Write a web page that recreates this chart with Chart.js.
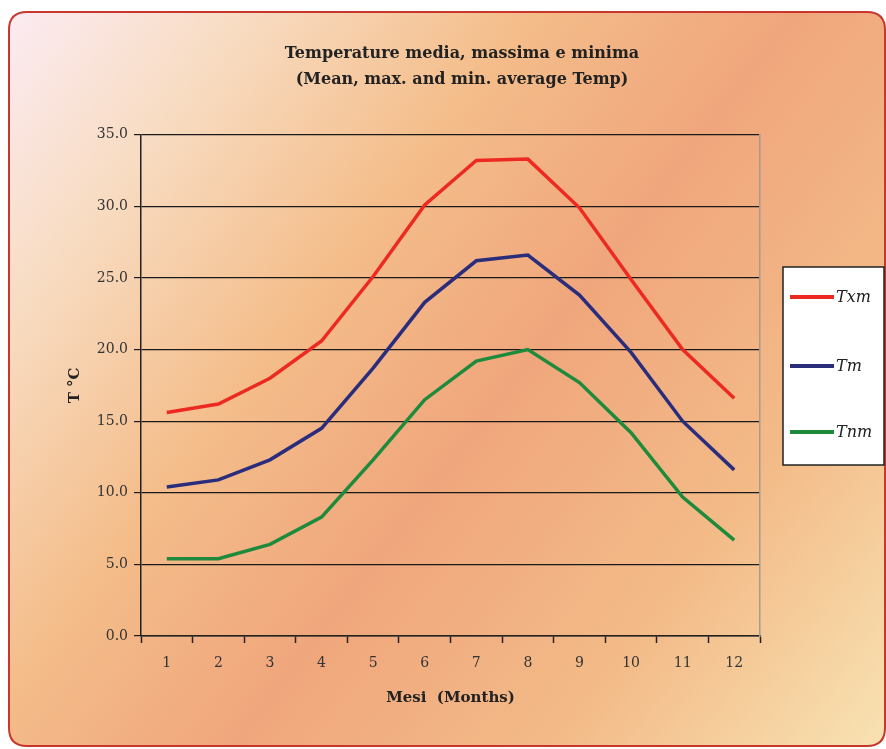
<!DOCTYPE html>
<html>
<head>
<meta charset="utf-8">
<script src="https://cdn.jsdelivr.net/npm/chart.js@4"></script>
<style>
  html, body { margin: 0; padding: 0; background: #fff; }
  #wrap { width: 886px; height: 749px; }
</style>
</head>
<body>
<div id="wrap"><canvas id="tempChart" width="886" height="749"></canvas></div>
<script>
// Dati
const mesi = ['1', '2', '3', '4', '5', '6', '7', '8', '9', '10', '11', '12'];
const txm = [15.6, 16.2, 18.0, 20.6, 25.1, 30.1, 33.2, 33.3, 29.9, 24.9, 20.0, 16.6];
const tm  = [10.4, 10.9, 12.3, 14.5, 18.7, 23.3, 26.2, 26.6, 23.8, 19.8, 15.0, 11.6];
const tnm = [5.4, 5.4, 6.4, 8.3, 12.3, 16.5, 19.2, 20.0, 17.7, 14.2, 9.7, 6.7];
const serieNomi = ['Txm', 'Tm', 'Tnm'];
const serieColori = ['#ec2a22', '#2a2c7c', '#1e8a3c'];
const titolo = ['Temperature media, massima e minima', '(Mean, max. and min. average Temp)'];

const serif = "'DejaVu Serif', 'Liberation Serif', serif";

// Sfondo sfumato e cornice arrotondata
const sfondo = {
  id: 'sfondo',
  beforeDraw(chart) {
    const c = chart.ctx;
    c.save();
    const x0 = 9, y0 = 12, x1 = 885, y1 = 746, r = 18;
    c.beginPath();
    c.moveTo(x0 + r, y0);
    c.lineTo(x1 - r, y0);
    c.quadraticCurveTo(x1, y0, x1, y0 + r);
    c.lineTo(x1, y1 - r);
    c.quadraticCurveTo(x1, y1, x1 - r, y1);
    c.lineTo(x0 + r, y1);
    c.quadraticCurveTo(x0, y1, x0, y1 - r);
    c.lineTo(x0, y0 + r);
    c.quadraticCurveTo(x0, y0, x0 + r, y0);
    c.closePath();
    const g = c.createLinearGradient(0, 40, 886, 720);
    g.addColorStop(0, '#fbeaf0');
    g.addColorStop(0.16, '#f8dcc2');
    g.addColorStop(0.36, '#f4bd8a');
    g.addColorStop(0.55, '#f0a67c');
    g.addColorStop(0.78, '#f3bb88');
    g.addColorStop(1, '#f8e0b0');
    c.fillStyle = g;
    c.fill();
    c.lineWidth = 2;
    c.strokeStyle = '#c8372c';
    c.stroke();
    c.restore();
  },
  afterDraw(chart) {
    // Legenda in riquadro bianco
    const c = chart.ctx;
    c.save();
    c.fillStyle = '#ffffff';
    c.fillRect(783, 267, 101, 198);
    c.strokeStyle = '#222';
    c.lineWidth = 1.5;
    c.strokeRect(783, 267, 101, 198);
    const ys = [297, 366, 432];
    chart.data.datasets.forEach((ds, i) => {
      c.strokeStyle = ds.borderColor;
      c.lineWidth = 4;
      c.beginPath();
      c.moveTo(790, ys[i]);
      c.lineTo(834, ys[i]);
      c.stroke();
      c.fillStyle = '#222';
      c.font = "italic 16px " + serif;
      c.textBaseline = 'middle';
      c.fillText(ds.label, 836, ys[i] + 1);
    });
    c.restore();
  }
};

const ctx = document.getElementById('tempChart');

new Chart(ctx, {
  type: 'line',
  data: {
    labels: mesi,
    datasets: [
      { label: serieNomi[0], data: txm, borderColor: serieColori[0] },
      { label: serieNomi[1], data: tm, borderColor: serieColori[1] },
      { label: serieNomi[2], data: tnm, borderColor: serieColori[2] }
    ]
  },
  options: {
    responsive: false,
    animation: false,
    layout: { padding: { left: 60, right: 22, top: 30, bottom: 30 } },
    elements: {
      line: { borderWidth: 3.5, tension: 0 },
      point: { radius: 0 }
    },
    plugins: {
      legend: { display: false },
      tooltip: { enabled: false },
      title: {
        display: true,
        text: titolo,
        color: '#222',
        font: { family: serif, size: 16, weight: 'bold', lineHeight: 1.68 },
        padding: { top: 10, bottom: 41 }
      }
    },
    scales: {
      x: {
        offset: true,
        grid: { offset: true, drawOnChartArea: false, color: '#222', tickLength: 7, tickWidth: 1.5 },
        border: { color: '#222', width: 1.5 },
        ticks: { color: '#333', font: { family: serif, size: 14 }, padding: 12 },
        title: {
          display: true, text: 'Mesi  (Months)', color: '#222',
          font: { family: serif, size: 15, weight: 'bold' },
          padding: { bottom: 12 }
        },
        afterFit: s => { s.height = 83; }
      },
      y: {
        min: 0, max: 35,
        ticks: { stepSize: 5, color: '#333', font: { family: serif, size: 14 }, padding: 6,
                 callback: v => v.toFixed(1) },
        grid: { color: '#1a1a1a', lineWidth: 1.2, tickLength: 7 },
        border: { color: '#222', width: 1.5 },
        title: {
          display: true, text: 'T °C', color: '#222',
          font: { family: serif, size: 15, weight: 'bold' },
          padding: { top: 6 }
        },
        afterFit: s => { s.width = 81; }
      },
      y2: {
        position: 'right',
        min: 0, max: 35,
        ticks: { display: false },
        grid: { display: false },
        border: { color: '#a89a90', width: 1.5 },
        afterFit: s => { s.width = 104; }
      }
    }
  },
  plugins: [sfondo]
});
</script>
</body>
</html>
